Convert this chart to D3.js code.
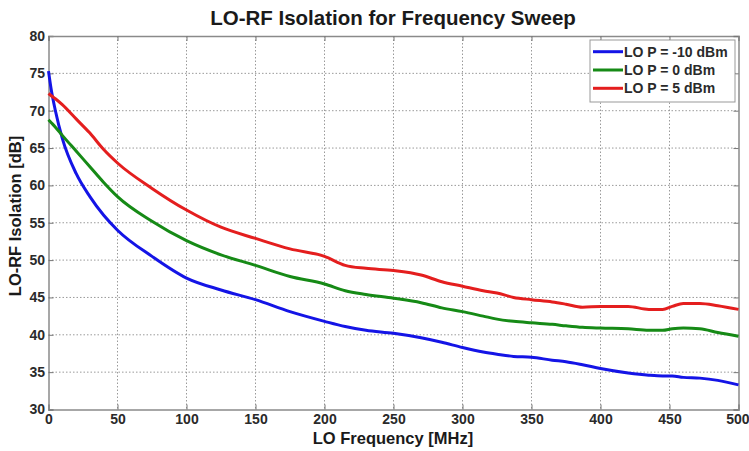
<!DOCTYPE html>
<html><head><meta charset="utf-8">
<script src="https://cdn.jsdelivr.net/npm/d3@7"></script>
<style>body{margin:0;background:#fff}svg{display:block}</style>
</head><body><svg id="c" width="749" height="451"></svg>
<script>
const freq = [0,2,5,10,20,30,40,50,75,100,125,150,175,200,215,230,250,270,285,300,315,325,337,350,365,375,387,400,420,435,445,452,460,472,485,500];
const isoM10 = [75.3,72.8,70.0,66.3,61.6,58.5,56.0,54.0,50.5,47.6,46.0,44.7,43.1,41.8,41.1,40.6,40.2,39.6,39.0,38.3,37.7,37.4,37.1,37.0,36.6,36.4,36.0,35.5,34.9,34.6,34.5,34.5,34.3,34.2,33.9,33.3];
const iso0 = [68.8,68.4,67.8,66.7,64.6,62.5,60.4,58.5,55.2,52.6,50.7,49.3,47.8,46.8,45.9,45.4,44.9,44.3,43.6,43.1,42.5,42.1,41.8,41.6,41.4,41.2,41.0,40.9,40.8,40.6,40.6,40.8,40.9,40.8,40.3,39.8];
const iso5 = [72.3,72.0,71.6,70.8,68.9,67.0,64.8,63.0,59.6,56.7,54.4,52.9,51.5,50.5,49.3,48.9,48.6,48.0,47.1,46.5,45.9,45.6,45.0,44.7,44.4,44.1,43.7,43.8,43.8,43.4,43.4,43.8,44.2,44.2,43.9,43.4];
const seriesNames = ["LO P = -10 dBm","LO P = 0 dBm","LO P = 5 dBm"];
const seriesColors = ["#1414e6","#168a16","#e41e1e"];
const xTicks = [0,50,100,150,200,250,300,350,400,450,500];
const yTicks = [30,35,40,45,50,55,60,65,70,75,80];

const svg = d3.select("#c");
const L=48.5,R=738.5,T=36,B=409.5;
const x = d3.scaleLinear().domain([0,500]).range([L,R]);
const y = d3.scaleLinear().domain([30,80]).range([B,T]);
const font = "'Liberation Sans', Arial, sans-serif";

// grid
const g = svg.append("g");
g.selectAll(".gx").data(xTicks.slice(1,-1)).enter().append("line")
 .attr("x1",d=>x(d)).attr("x2",d=>x(d)).attr("y1",T).attr("y2",B)
 .attr("stroke","#9a9a9a").attr("stroke-width",1).attr("stroke-dasharray","1.5,2");
g.selectAll(".gy").data(yTicks.slice(1,-1)).enter().append("line")
 .attr("y1",d=>y(d)).attr("y2",d=>y(d)).attr("x1",L).attr("x2",R)
 .attr("stroke","#9a9a9a").attr("stroke-width",1).attr("stroke-dasharray","1.5,2");

// axes (ticks inside)
const ax = d3.axisBottom(x).tickValues(xTicks).tickSize(-5).tickPadding(5).tickFormat(d3.format("d"));
const ay = d3.axisLeft(y).tickValues(yTicks).tickSize(-5).tickPadding(3.5).tickFormat(d3.format("d"));
const axT = d3.axisTop(x).tickValues(xTicks).tickSize(-5).tickFormat("");
const ayR = d3.axisRight(y).tickValues(yTicks).tickSize(-5).tickFormat("");
[[ax,`translate(0,${B})`],[ay,`translate(${L},0)`],[axT,`translate(0,${T})`],[ayR,`translate(${R},0)`]].forEach(([a,t],i)=>{
  const gg = svg.append("g").attr("transform",t).call(a);
  gg.select(".domain").attr("stroke","#8a8a8a").attr("stroke-width",1.5);
  gg.selectAll(".tick line").attr("stroke","#777");
  gg.selectAll("text").attr("font-family",font).attr("font-weight","bold").attr("font-size",14).attr("fill","#2a2a2a");
  if(i===0){ gg.selectAll(".tick text").filter(d=>d===500).attr("text-anchor","end").attr("dx",10.5); }
});

// lines
const data = [isoM10,iso0,iso5];
const line = d3.line().x((d,i)=>x(freq[i])).y(d=>y(d)).curve(d3.curveMonotoneX);
data.forEach((s,k)=>{
  svg.append("path").datum(s).attr("d",line).attr("fill","none")
   .attr("stroke",seriesColors[k]).attr("stroke-width",3).attr("stroke-linejoin","round");
});

// legend
const lg = svg.append("g");
lg.append("rect").attr("x",590).attr("y",40).attr("width",145).attr("height",62)
  .attr("fill","#fff").attr("stroke","#999").attr("stroke-width",1);
const rowY=[51.7,70,88.3];
seriesNames.forEach((n,k)=>{
  lg.append("line").attr("x1",593).attr("x2",623).attr("y1",rowY[k]).attr("y2",rowY[k])
    .attr("stroke",seriesColors[k]).attr("stroke-width",3);
  lg.append("text").attr("x",624).attr("y",rowY[k]+5).text(n)
    .attr("font-family",font).attr("font-weight","bold").attr("font-size",14).attr("fill","#2a2a2a");
});

// titles
svg.append("text").attr("x",393).attr("y",25).attr("text-anchor","middle")
 .attr("font-family",font).attr("font-weight","bold").attr("font-size",20.5).attr("fill","#1a1a1a")
 .text("LO-RF Isolation for Frequency Sweep");
svg.append("text").attr("x",393).attr("y",444).attr("text-anchor","middle")
 .attr("font-family",font).attr("font-weight","bold").attr("font-size",16.5).attr("fill","#1a1a1a")
 .text("LO Frequency [MHz]");
svg.append("text").attr("transform","translate(21,216) rotate(-90)").attr("text-anchor","middle")
 .attr("font-family",font).attr("font-weight","bold").attr("font-size",16.5).attr("fill","#1a1a1a")
 .text("LO-RF Isolation [dB]");
</script></body></html>
